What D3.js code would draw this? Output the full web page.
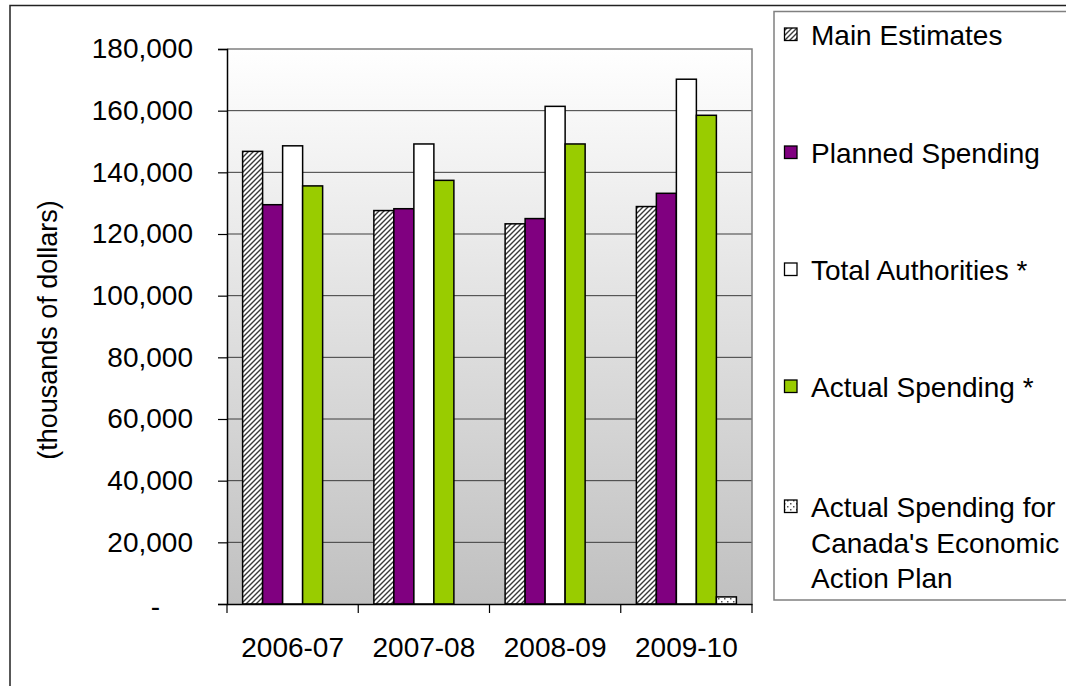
<!DOCTYPE html>
<html>
<head>
<meta charset="utf-8">
<script src="https://cdn.jsdelivr.net/npm/d3@7"></script>
<style>
  html, body { margin: 0; padding: 0; background: #fff; }
  svg { display: block; font-family: "Liberation Sans", Arial, sans-serif; }
</style>
</head>
<body>
<svg id="chart" width="1066" height="686"></svg>
<script>
// Fiscal years and spending series (thousands of dollars)
const categories = ["2006-07", "2007-08", "2008-09", "2009-10"];
const mainEstimates    = [146800, 127600, 123300, 128900];
const plannedSpending  = [129500, 128200, 125000, 133200];
const totalAuthorities = [148600, 149200, 161400, 170200];
const actualSpending   = [135600, 137400, 149200, 158500];
const eapSpending      = [0, 0, 0, 2300];

const seriesNames = [
  "Main Estimates",
  "Planned Spending",
  "Total Authorities *",
  "Actual Spending *",
  "Actual Spending for Canada's Economic Action Plan"
];
const legendLines = [
  ["Main Estimates"],
  ["Planned Spending"],
  ["Total Authorities *"],
  ["Actual Spending *"],
  ["Actual Spending for", "Canada's Economic", "Action Plan"]
];
const seriesValues = [mainEstimates, plannedSpending, totalAuthorities, actualSpending, eapSpending];
const yTicks = [0, 20000, 40000, 60000, 80000, 100000, 120000, 140000, 160000, 180000];
const yTitle = "(thousands of dollars)";

const seriesFills = ["url(#hatch)", "#800080", "#ffffff", "#99cc00", "url(#dots)"];

const svg = d3.select("#chart");
const defs = svg.append("defs");

// Plot area background: white fading to grey
const grad = defs.append("linearGradient")
  .attr("id", "plotBg").attr("x1", 0).attr("y1", 0).attr("x2", 0).attr("y2", 1);
grad.append("stop").attr("offset", "0%").attr("stop-color", "#ffffff");
grad.append("stop").attr("offset", "100%").attr("stop-color", "#c0c0c0");

// Upward diagonal hatch
const hatch = defs.append("pattern")
  .attr("id", "hatch").attr("patternUnits", "userSpaceOnUse")
  .attr("width", 5).attr("height", 5);
hatch.append("rect").attr("width", 5).attr("height", 5).attr("fill", "#ffffff");
hatch.append("path")
  .attr("d", "M-1,1 L1,-1 M0,5 L5,0 M4,6 L6,4")
  .attr("stroke", "#3a3a3a").attr("stroke-width", 1.4);

// Sparse dot pattern
const dots = defs.append("pattern")
  .attr("id", "dots").attr("patternUnits", "userSpaceOnUse")
  .attr("width", 6).attr("height", 6);
dots.append("rect").attr("width", 6).attr("height", 6).attr("fill", "#ffffff");
dots.append("rect").attr("x", 1).attr("y", 1).attr("width", 1.5).attr("height", 1.5).attr("fill", "#555");
dots.append("rect").attr("x", 4).attr("y", 4).attr("width", 1.5).attr("height", 1.5).attr("fill", "#555");

// Outer chart frame
svg.append("rect")
  .attr("x", 10).attr("y", 5.5).attr("width", 1100).attr("height", 720)
  .attr("fill", "none").attr("stroke", "#222").attr("stroke-width", 1.5);

const plot = { left: 227, right: 752, top: 49, bottom: 604 };

const x = d3.scaleBand().domain(categories).range([plot.left, plot.right]).padding(0);
const xs = d3.scaleBand().domain(d3.range(seriesNames.length))
  .range([0, x.bandwidth()]).paddingInner(0).paddingOuter(0.78);
const y = d3.scaleLinear().domain([0, 180000]).range([plot.bottom, plot.top]);

// Plot background
svg.append("rect")
  .attr("x", plot.left).attr("y", plot.top)
  .attr("width", plot.right - plot.left).attr("height", plot.bottom - plot.top)
  .attr("fill", "url(#plotBg)");

// Gridlines
svg.append("g").selectAll("line")
  .data(yTicks.filter(d => d > 0 && d < 180000))
  .join("line")
  .attr("x1", plot.left).attr("x2", plot.right)
  .attr("y1", d => y(d)).attr("y2", d => y(d))
  .attr("stroke", "#3c3c3c").attr("stroke-width", 1);

// Plot border (top and right)
svg.append("path")
  .attr("d", `M${plot.left},${plot.top} H${plot.right} V${plot.bottom}`)
  .attr("fill", "none").attr("stroke", "#808080").attr("stroke-width", 1.5);

// Bars
const barData = [];
categories.forEach((c, ci) => {
  seriesValues.forEach((vals, si) => {
    if (vals[ci] > 0) barData.push({ c, si, v: vals[ci] });
  });
});
svg.append("g").selectAll("rect")
  .data(barData)
  .join("rect")
  .attr("x", d => x(d.c) + xs(d.si))
  .attr("y", d => y(d.v))
  .attr("width", xs.bandwidth())
  .attr("height", d => y(0) - y(d.v))
  .attr("fill", d => seriesFills[d.si])
  .attr("stroke", "#000").attr("stroke-width", 1.5);

// Y axis
const yAxis = svg.append("g")
  .attr("transform", `translate(${plot.left},0)`)
  .call(d3.axisLeft(y).tickValues(yTicks).tickSize(9).tickPadding(25)
    .tickFormat(d => d === 0 ? "-" : d3.format(",")(d)));
yAxis.select(".domain").attr("stroke", "#000").attr("stroke-width", 1.5);
yAxis.selectAll(".tick line").attr("stroke", "#000").attr("stroke-width", 1.2);
yAxis.selectAll(".tick text")
  .attr("font-size", 28).attr("fill", "#000")
  .attr("font-family", "Liberation Sans, Arial, sans-serif")
  .filter(d => d === 0).attr("dx", -33).attr("dy", "0.4em");

// X axis: labels centred in each band, ticks at the band boundaries
const xAxis = svg.append("g")
  .attr("transform", `translate(0,${plot.bottom})`)
  .call(d3.axisBottom(x).tickSize(0).tickPadding(33));
xAxis.select(".domain").attr("stroke", "#000").attr("stroke-width", 1.5);
xAxis.selectAll(".tick text")
  .attr("font-size", 28).attr("fill", "#000")
  .attr("font-family", "Liberation Sans, Arial, sans-serif");
const boundaries = categories.map(c => x(c)).concat([x.range()[1]]);
xAxis.append("g").selectAll("line")
  .data(boundaries)
  .join("line")
  .attr("x1", d => d).attr("x2", d => d)
  .attr("y1", 0).attr("y2", 9)
  .attr("stroke", "#000").attr("stroke-width", 1.2);

// Y axis title
svg.append("text")
  .attr("transform", "translate(48,330) rotate(-90)")
  .attr("text-anchor", "middle")
  .attr("dominant-baseline", "central")
  .attr("font-size", 27)
  .attr("fill", "#000")
  .text(yTitle);

// Legend
svg.append("rect")
  .attr("x", 774).attr("y", 11.5).attr("width", 400).attr("height", 588.5)
  .attr("fill", "#fff").attr("stroke", "#808080").attr("stroke-width", 1.5);

const legendBaselines = [45, 163, 280, 397, 517];
const legendLineGap = 35.5;
const legend = svg.append("g").selectAll("g")
  .data(seriesNames)
  .join("g")
  .attr("transform", (d, i) => `translate(0,${legendBaselines[i]})`);
legend.append("rect")
  .attr("x", 784.5).attr("y", -17)
  .attr("width", 12.5).attr("height", 12.5)
  .attr("fill", (d, i) => seriesFills[i])
  .attr("stroke", "#000").attr("stroke-width", 1.3);
legend.append("text")
  .attr("x", 811).attr("y", 0)
  .attr("font-size", 28).attr("fill", "#000")
  .selectAll("tspan")
  .data((d, i) => legendLines[i])
  .join("tspan")
  .attr("x", 811)
  .attr("dy", (d, j) => j === 0 ? 0 : legendLineGap)
  .text(d => d);
</script>
</body>
</html>
